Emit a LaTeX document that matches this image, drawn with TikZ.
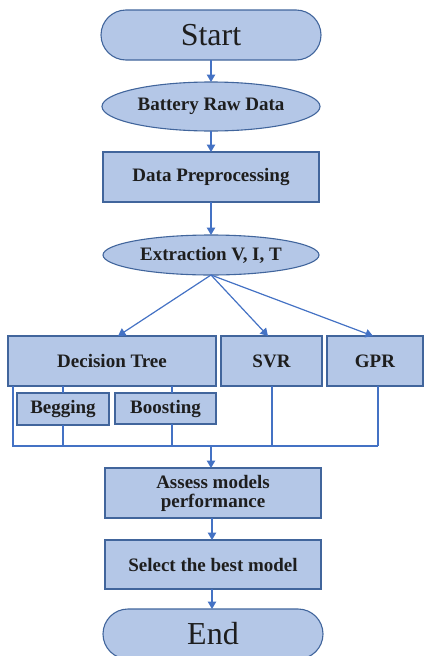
\documentclass[tikz,border=0pt]{standalone}
\usepackage{fontspec}
\setmainfont{Liberation Serif}
\usetikzlibrary{shapes.geometric,arrows.meta}
\definecolor{boxfill}{HTML}{B4C7E7}
\definecolor{boxline}{HTML}{41659C}
\definecolor{wire}{HTML}{4472C4}
\definecolor{ink}{HTML}{1E1E1E}
\tikzset{
  base/.style={draw=boxline, fill=boxfill, line width=1.1pt, text=ink, outer sep=0pt, inner sep=0pt, align=center},
  txt/.style={font=\fontsize{19}{19}\selectfont\bfseries},
  terminal/.style={base, rounded corners=25pt, minimum width=220pt, minimum height=50pt, font=\fontsize{32}{32}\selectfont},
  oval/.style={base, txt, ellipse},
  stepbox/.style={base, txt, rectangle},
  link/.style={draw=wire, line width=1.2pt},
  flow/.style={link, -{Triangle[length=7.5pt,width=8.5pt]}}
}
\begin{document}
\begin{tikzpicture}[x=1pt,y=-1pt]
\useasboundingbox (0,0) rectangle (424,656);
\clip (0,0) rectangle (424,656);

% main column
\node[terminal] (start) at (211,35) {Start};
\node[oval, minimum width=218pt, minimum height=49pt] (raw) at (211,106.5) {Battery Raw Data};
\node[stepbox, minimum width=216pt, minimum height=50pt] (prep) at (211,177) {Data Preprocessing};
\node[oval, minimum width=216pt, minimum height=40pt] (extr) at (211,255) {Extraction V, I, T};

% models
\node[stepbox, minimum width=208pt, minimum height=50pt] (dt) at (112,361) {Decision Tree};
\node[stepbox, minimum width=101pt, minimum height=50pt] (svr) at (271.5,361) {SVR};
\node[stepbox, minimum width=96pt, minimum height=50pt] (gpr) at (375,361) {GPR};
\node[stepbox, minimum width=92pt, minimum height=32pt] (beg) at (63,409) {Begging};
\node[stepbox, minimum width=101pt, minimum height=31pt] (boost) at (165.5,408.5) {Boosting};

% evaluation
\node[stepbox, minimum width=216pt, minimum height=50pt] (assess) at (213,493) {Assess models\\performance};
\node[stepbox, minimum width=216pt, minimum height=49pt] (select) at (213,564.5) {Select the best model};
\node[terminal] (end) at (213,634) {End};

\coordinate (bus) at (211,446);

% connectors
\draw[flow] (start.south) -- (raw.north);
\draw[flow] (raw.south) -- (prep.north);
\draw[flow] (prep.south) -- (extr.north);
\draw[flow] (extr.south) -- ([xshift=6pt]dt.north);
\draw[flow] (extr.south) -- ([xshift=-3.5pt]svr.north);
\draw[flow] (extr.south) -- ([xshift=-2pt]gpr.north);

\draw[link] (dt.south -| beg.north) -- (beg.north);
\draw[link] ([xshift=6.5pt]dt.south -| boost.north) -- ([xshift=6.5pt]boost.north);
\draw[link] ([xshift=5pt]dt.south west) -- ([xshift=5pt]dt.south west |- bus) -- ([xshift=3pt]gpr.south |- bus);
\draw[link] (beg.south) -- (beg.south |- bus);
\draw[link] ([xshift=6.5pt]boost.south) -- ([xshift=6.5pt]boost.south |- bus);
\draw[link] ([xshift=0.5pt]svr.south) -- ([xshift=0.5pt]svr.south |- bus);
\draw[link] ([xshift=3pt]gpr.south) -- ([xshift=3pt]gpr.south |- bus);

\draw[flow] (bus) -- (bus |- assess.north);
\draw[flow] ([xshift=-1pt]assess.south) -- ([xshift=-1pt]select.north);
\draw[flow] ([xshift=-1pt]select.south) -- ([xshift=-1pt]end.north);
\end{tikzpicture}
\end{document}
